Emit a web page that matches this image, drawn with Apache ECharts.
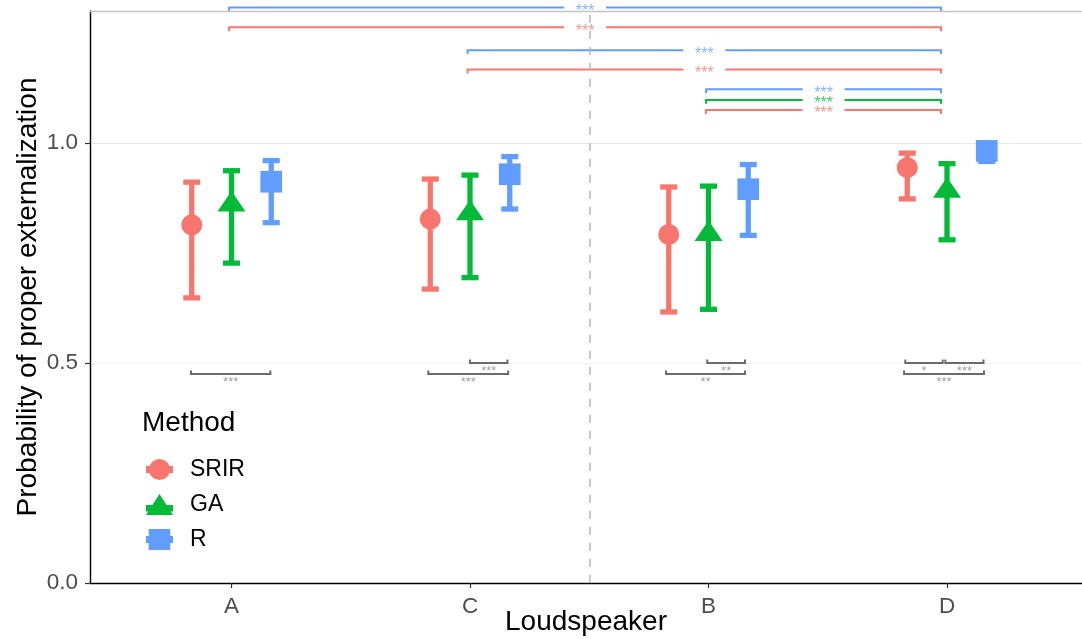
<!DOCTYPE html>
<html>
<head>
<meta charset="utf-8">
<script src="https://cdn.jsdelivr.net/npm/echarts@6/dist/echarts.min.js"></script>
<style>
html,body{margin:0;padding:0;background:#fff;}
#chart{width:1082px;height:639px;}
</style>
</head>
<body>
<div id="chart"></div>
<script>
// ---------- data ----------
const categories = ['A', 'C', 'B', 'D'];
const methods = ['SRIR', 'GA', 'R'];

const srirMean = [0.814, 0.827, 0.792, 0.944];
const srirLow  = [0.648, 0.668, 0.616, 0.873];
const srirHigh = [0.911, 0.918, 0.900, 0.977];

const gaMean = [0.860, 0.840, 0.793, 0.891];
const gaLow  = [0.727, 0.694, 0.622, 0.780];
const gaHigh = [0.937, 0.927, 0.902, 0.953];

const rMean = [0.912, 0.929, 0.895, 0.982];
const rLow  = [0.819, 0.850, 0.790, 0.958];
const rHigh = [0.960, 0.969, 0.951, 0.992];

// between-loudspeaker comparisons (top, coloured)
const topFrom   = [0.99, 0.99, 1.99, 1.99, 2.99, 2.99, 2.99];
const topTo     = [3.975, 3.975, 3.975, 3.975, 3.975, 3.975, 3.975];
const topY      = [1.308, 1.263, 1.211, 1.167, 1.122, 1.098, 1.075];
const topMethod = ['R', 'SRIR', 'R', 'SRIR', 'R', 'GA', 'SRIR'];
const topLabel  = ['***', '***', '***', '***', '***', '***', '***'];

// within-loudspeaker comparisons (bottom, grey)
const grayFrom  = [0.83, 1.825, 2.0, 2.822, 2.995, 3.82, 3.825, 3.993];
const grayTo    = [1.163, 2.16, 2.157, 3.153, 3.153, 4.155, 3.982, 4.153];
const grayY     = [0.475, 0.475, 0.500, 0.475, 0.500, 0.475, 0.500, 0.500];
const grayLabel = ['***', '***', '***', '**', '**', '***', '*', '***'];

const yTickValues = [0, 0.5, 1.0];

// ---------- styling ----------
const FONT = "'Liberation Sans', Arial, Helvetica, sans-serif";
const colors = { SRIR: '#F8766D', GA: '#00BA38', R: '#619CFF' };
const dodge = { SRIR: -1 / 6, GA: 0, R: 1 / 6 };
const seriesData = {
  SRIR: [srirMean, srirLow, srirHigh],
  GA: [gaMean, gaLow, gaHigh],
  R: [rMean, rLow, rHigh]
};
const symbols = {
  SRIR: { symbol: 'circle', size: 21, offset: [0, 0] },
  GA: { symbol: 'triangle', size: [28, 20.6], offset: [0, -3.4] },
  R: { symbol: 'rect', size: 21.7, offset: [0, 0] }
};
const legendIcons = {
  SRIR: 'path://M0,7 L27,7 L27,14 L0,14 Z M3,10.5 A10.5,10.5 0 1,1 24,10.5 A10.5,10.5 0 1,1 3,10.5 Z',
  GA: 'path://M13.5,0 L27,21 L0,21 Z M0,11 L27,11 L27,17.5 L0,17.5 Z',
  R: 'path://M2.7,0 L24.3,0 L24.3,21 L2.7,21 Z M0,7 L27,7 L27,14 L0,14 Z'
};

const series = [];

// error bars
methods.forEach(function (m) {
  const d = seriesData[m];
  series.push({
    name: m,
    type: 'custom',
    clip: false,
    z: 3,
    encode: { x: 0, y: [1, 2] },
    data: categories.map(function (c, i) { return [i + 1 + dodge[m], d[1][i], d[2][i]]; }),
    renderItem: function (params, api) {
      const x = api.value(0);
      const lo = api.coord([x, api.value(1)]);
      const hi = api.coord([x, api.value(2)]);
      const hw = 8.5;
      const st = { stroke: colors[m], lineWidth: 5.3, lineCap: 'butt' };
      return {
        type: 'group',
        children: [
          { type: 'line', shape: { x1: lo[0], y1: lo[1], x2: hi[0], y2: hi[1] }, style: st },
          { type: 'line', shape: { x1: lo[0] - hw, y1: lo[1], x2: lo[0] + hw, y2: lo[1] }, style: st },
          { type: 'line', shape: { x1: hi[0] - hw, y1: hi[1], x2: hi[0] + hw, y2: hi[1] }, style: st }
        ]
      };
    }
  });
});

// points
methods.forEach(function (m) {
  const d = seriesData[m];
  series.push({
    name: m,
    type: 'scatter',
    z: 4,
    symbol: symbols[m].symbol,
    symbolSize: symbols[m].size,
    symbolOffset: symbols[m].offset,
    itemStyle: { color: colors[m], opacity: 1 },
    emphasis: { disabled: true },
    data: categories.map(function (c, i) { return [i + 1 + dodge[m], d[0][i]]; })
  });
});

// top coloured brackets
series.push({
  name: 'topBrackets',
  type: 'custom',
  clip: false,
  silent: true,
  z: 2,
  encode: { x: [0, 1], y: 2 },
  data: topFrom.map(function (f, i) { return [f, topTo[i], topY[i], i]; }),
  renderItem: function (params, api) {
    const i = api.value(3);
    const y = api.value(2);
    const a = api.coord([api.value(0), y]);
    const b = api.coord([api.value(1), y]);
    const tip = api.coord([api.value(0), y - 0.009]);
    const cx = (a[0] + b[0]) / 2;
    const gap = 21;
    const col = colors[topMethod[i]];
    const st = { stroke: col, lineWidth: 2, fill: null };
    return {
      type: 'group',
      children: [
        { type: 'polyline', shape: { points: [[a[0], tip[1]], [a[0], a[1]], [cx - gap, a[1]]] }, style: st },
        { type: 'polyline', shape: { points: [[cx + gap, b[1]], [b[0], b[1]], [b[0], tip[1]]] }, style: st },
        { type: 'text', style: { text: topLabel[i], x: cx, y: a[1] + 4, align: 'center', verticalAlign: 'middle',
          fill: col, fontSize: 16, fontFamily: FONT, opacity: 0.75 } }
      ]
    };
  },
  markLine: {
    silent: true,
    symbol: ['none', 'none'],
    label: { show: false },
    animation: false,
    data: [
      { xAxis: 2.5, lineStyle: { type: [8, 8], color: '#b8b8b8', width: 1.5 } },
      { yAxis: 1.3, lineStyle: { type: 'solid', color: '#c4c4c4', width: 1.4 } }
    ]
  }
});

// bottom grey brackets
series.push({
  name: 'grayBrackets',
  type: 'custom',
  clip: false,
  silent: true,
  z: 2,
  encode: { x: [0, 1], y: 2 },
  data: grayFrom.map(function (f, i) { return [f, grayTo[i], grayY[i], i]; }),
  renderItem: function (params, api) {
    const i = api.value(3);
    const y = api.value(2);
    const a = api.coord([api.value(0), y]);
    const b = api.coord([api.value(1), y]);
    const tip = api.coord([api.value(0), y + 0.008]);
    const st = { stroke: '#6b6b6b', lineWidth: 2, fill: null };
    return {
      type: 'group',
      children: [
        { type: 'polyline', shape: { points: [[a[0], tip[1]], [a[0], a[1]], [b[0], b[1]], [b[0], tip[1]]] }, style: st },
        { type: 'text', style: { text: grayLabel[i], x: (a[0] + b[0]) / 2, y: a[1] + 8, align: 'center', verticalAlign: 'middle',
          fill: '#a0a0a0', fontSize: 13, fontFamily: FONT } }
      ]
    };
  }
});

const chart = echarts.init(document.getElementById('chart'), null, { renderer: 'canvas' });
chart.setOption({
  animation: false,
  backgroundColor: '#ffffff',
  textStyle: { fontFamily: FONT },
  title: {
    text: 'Method',
    left: 142,
    top: 409,
    padding: 0,
    textStyle: { fontSize: 28, fontWeight: 'normal', color: '#000', fontFamily: FONT }
  },
  legend: {
    orient: 'vertical',
    left: 138,
    top: 452,
    padding: [6, 10, 8, 8],
    backgroundColor: '#ffffff',
    itemWidth: 27,
    itemHeight: 21,
    itemGap: 12,
    selectedMode: false,
    textStyle: { fontSize: 23, color: '#000', fontFamily: FONT, lineHeight: 21, padding: [0, 0, 0, 12] },
    data: methods.map(function (m) { return { name: m, icon: legendIcons[m], itemStyle: { color: colors[m] } }; })
  },
  grid: { left: 90, right: 0, top: 11, bottom: 56, containLabel: false, outerBoundsMode: 'none' },
  xAxis: {
    type: 'value',
    min: 0.4067,
    max: 4.566,
    name: 'Loudspeaker',
    nameLocation: 'middle',
    nameGap: 25,
    nameMoveOverlap: false,
    nameTextStyle: { fontSize: 28, color: '#000', fontFamily: FONT, verticalAlign: 'top' },
    axisLine: { show: true, onZero: false, lineStyle: { color: '#000', width: 1.4 } },
    axisTick: { show: true, length: 5, customValues: [1, 2, 3, 4], lineStyle: { color: '#333', width: 1.2 } },
    axisLabel: {
      customValues: [1, 2, 3, 4],
      formatter: function (v) { return categories[Math.round(v) - 1]; },
      fontSize: 22.5, color: '#4d4d4d', margin: 12, fontFamily: FONT
    },
    splitLine: { show: false }
  },
  yAxis: {
    type: 'value',
    min: 0,
    max: 1.3,
    interval: 0.25,
    name: 'Probability of proper externalization',
    nameLocation: 'middle',
    nameGap: 48,
    nameMoveOverlap: false,
    nameTextStyle: { fontSize: 28, color: '#000', fontFamily: FONT },
    axisLine: { show: true, onZero: false, lineStyle: { color: '#000', width: 1.4 } },
    axisTick: { show: true, length: 5, customValues: yTickValues, lineStyle: { color: '#333', width: 1.2 } },
    axisLabel: {
      customValues: yTickValues,
      formatter: function (v) { return v.toFixed(1); },
      fontSize: 22.5, color: '#4d4d4d', margin: 12, fontFamily: FONT
    },
    splitLine: { show: true, lineStyle: { color: ['#e9e9e9', '#f3f3f3'], width: 1.1 } }
  },
  series: series
});
</script>
</body>
</html>
